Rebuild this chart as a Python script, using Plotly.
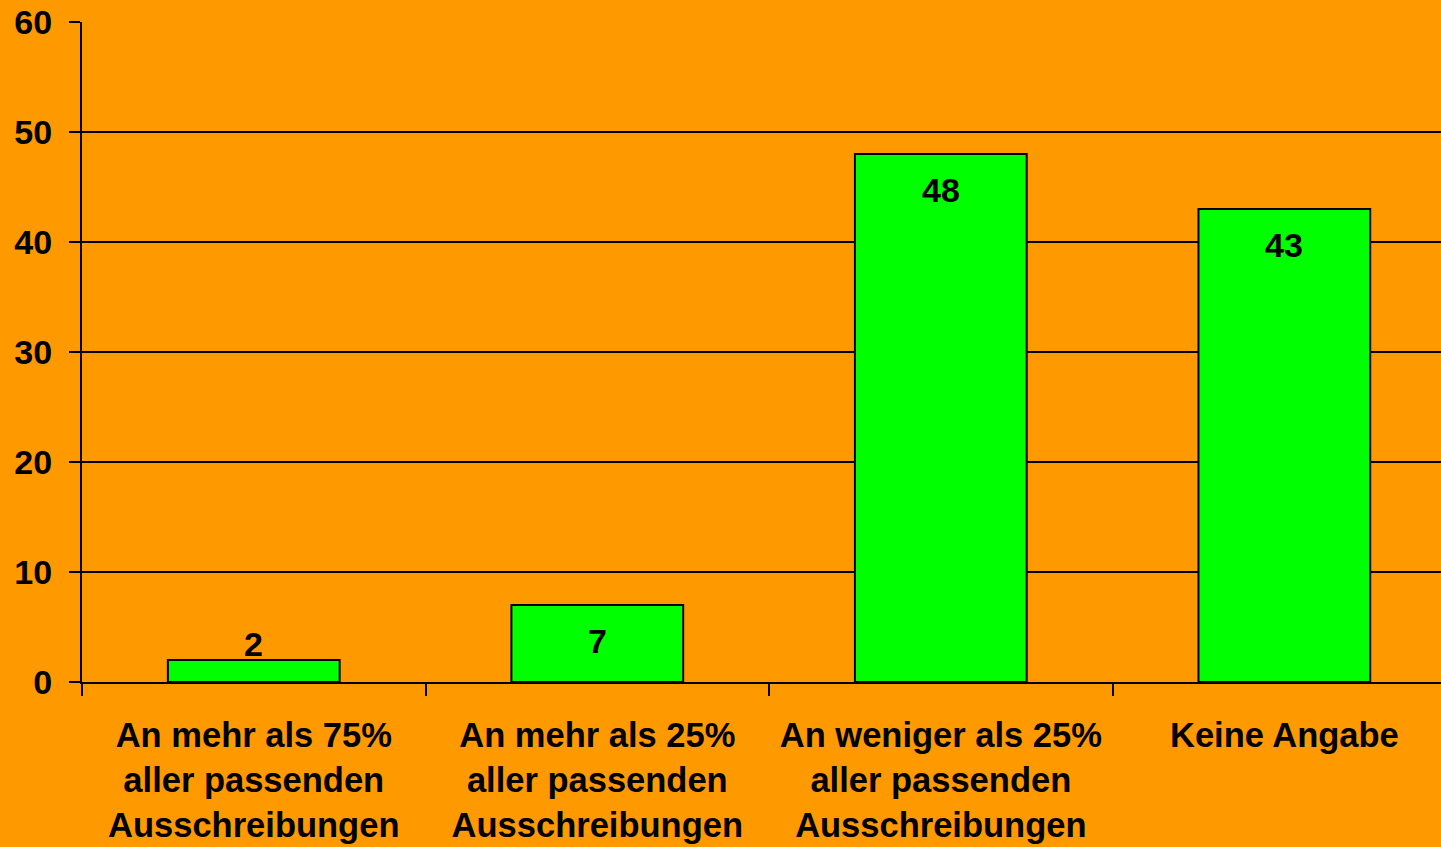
import plotly.graph_objects as go

categories = [
    "An mehr als 75%<br>aller passenden<br>Ausschreibungen",
    "An mehr als 25%<br>aller passenden<br>Ausschreibungen",
    "An weniger als 25%<br>aller passenden<br>Ausschreibungen",
    "Keine Angabe",
]
values = [2, 7, 48, 43]
y_ticks = [0, 10, 20, 30, 40, 50, 60]

FONT = "Liberation Sans, Arial, sans-serif"
BG = "#FF9900"

fig = go.Figure()
fig.add_trace(go.Bar(
    x=categories, y=values, width=0.5,
    marker=dict(color="#00FF00", line=dict(color="black", width=2)),
    hoverinfo="skip",
))

for c, v in zip(categories, values):
    small = v < 5
    fig.add_annotation(
        x=c, y=v, text=str(v), showarrow=False,
        yanchor="bottom" if small else "top",
        yshift=-5 if small else -15,
        font=dict(family=FONT, size=34, color="black", weight="bold"),
    )

fig.update_layout(
    width=1441, height=847,
    paper_bgcolor=BG, plot_bgcolor=BG,
    margin=dict(l=82, r=0, t=22, b=165),
    showlegend=False,
    font=dict(family=FONT, size=34, color="black", weight="bold"),
    bargap=0.5,
)
fig.update_xaxes(
    type="category", range=[-0.5, 3.456],
    tickson="boundaries", ticks="outside", ticklen=12, tickwidth=2, tickcolor="black",
    showline=True, linecolor="black", linewidth=2, showgrid=False,
    ticklabelstandoff=22,
    tickfont=dict(family=FONT, size=34.5, color="black", weight="bold"),
)
fig.update_yaxes(
    range=[0, 60], tickvals=y_ticks, ticktext=[str(t) for t in y_ticks],
    ticks="outside", ticklen=11, tickwidth=2, tickcolor="black",
    showline=True, linecolor="black", linewidth=2,
    showgrid=True, gridcolor="black", gridwidth=2, zeroline=False,
    ticklabelstandoff=10,
    tickfont=dict(family=FONT, size=34, color="black", weight="bold"),
)

fig.write_html(
    "out.html",
    config={"displayModeBar": False},
    post_script="document.body.style.margin='0';document.body.style.background='#FF9900';",
)
